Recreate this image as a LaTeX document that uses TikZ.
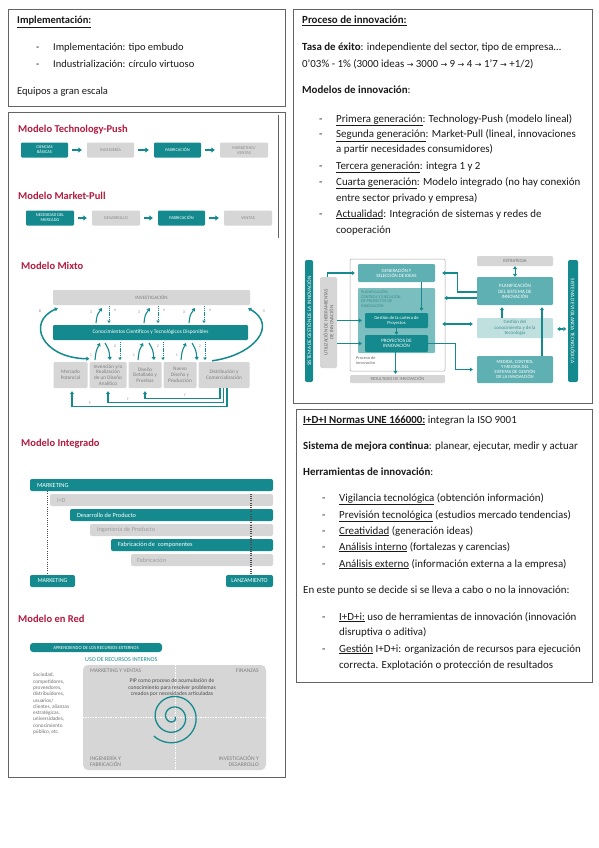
\documentclass[tikz,border=0pt]{standalone}
\usepackage{fontspec}
\setmainfont{Carlito}
\newfontfamily\djv{DejaVu Sans}
\usetikzlibrary{arrows.meta}
\definecolor{tealA}{RGB}{20,138,142}
\definecolor{tealB}{RGB}{95,176,178}
\definecolor{tealC}{RGB}{122,190,191}
\definecolor{tealD}{RGB}{192,224,224}
\definecolor{tealT}{RGB}{62,140,142}
\definecolor{grayB}{RGB}{214,214,214}
\definecolor{grayT}{RGB}{140,140,140}
\definecolor{redT}{RGB}{178,26,62}
\definecolor{frameC}{RGB}{100,100,100}
\definecolor{txtC}{RGB}{25,25,25}
\newcommand{\myarr}{{\djv\fontsize{8}{8}\selectfont →}}
\begin{document}
\begin{tikzpicture}[x=1pt,y=-1pt,
  txt/.style={anchor=base west,inner sep=0,text=txtC,font=\fontsize{10.5}{12}\selectfont},
  txr/.style={anchor=base west,inner sep=0,text=txtC,font=\fontsize{10.9}{12}\selectfont},
  ttl/.style={anchor=base west,inner sep=0,text=redT,font=\bfseries\fontsize{10.5}{12}\selectfont},
  frm/.style={draw=frameC,line width=0.8pt},
  tb/.style={fill=tealA,text=white,rounded corners=1.2pt,inner sep=0,align=center,font=\fontsize{4.4}{5}\selectfont},
  gb/.style={fill=grayB,text=grayT,rounded corners=1.2pt,inner sep=0,align=center,font=\fontsize{4.4}{5}\selectfont},
  tarr/.style={draw=tealA,line width=1.8pt,-{Triangle[width=5pt,length=3.5pt]}},
  arr/.style={draw=tealA,line width=1.3pt,-{Triangle[width=4pt,length=3pt]}},
  arrb/.style={draw=tealA,line width=1.3pt,{Triangle[width=4pt,length=3pt]}-{Triangle[width=4pt,length=3pt]}},
  darr/.style={draw=tealA,line width=0.9pt,dash pattern=on 1.2pt off 0.9pt,-{Triangle[width=3.5pt,length=2.5pt]}},
  lbl/.style={inner sep=0,text=grayT,font=\fontsize{4}{4.5}\selectfont},
  bt/.style={anchor=west,inner sep=0,text=white,font=\fontsize{6.3}{7}\selectfont},
  gt/.style={anchor=west,inner sep=0,text=grayT!85,font=\fontsize{6.3}{7}\selectfont},
  dotl/.style={draw=black!70,line width=1.1pt,dash pattern=on 1pt off 1.2pt},
  small/.style={inner sep=0,align=center,font=\fontsize{4}{4.5}\selectfont},
  qd/.style={inner sep=0,text=grayT!90!black,font=\fontsize{5.6}{6.4}\selectfont},
]
\useasboundingbox (0,0) rectangle (599,848);
\fill[white] (0,0) rectangle (599,848);

% ---------- frames ----------
\draw[frm] (8,9) rectangle (285,106);
\draw[frm] (8,112) rectangle (285,777);
\draw[frm] (293,9) rectangle (592,403);
\draw[frm] (296,409) rectangle (592,682);

% ---------- top-left text ----------
\node[txt] (h1) at (17,24) {\textbf{\underline{Implementación:}}};
\node[txt] (d1) at (36,51) {-};
\node[txt] (l1) at (53,51) {Implementación: tipo embudo};
\node[txt] (d2) at (36,68) {-};
\node[txt] (l2) at (53,68) {Industrialización: círculo virtuoso};
\node[txt] (l3) at (17,95) {Equipos a gran escala};

% ---------- top-right text ----------
\node[txr] (p1) at (302,24) {\textbf{\underline{Proceso de innovación:}}};
\node[txr] (p2) at (302,51) {\textbf{Tasa de éxito}: independiente del sector, tipo de empresa…};
\node[txr] (p3) at (302,68) {0’03\% - 1\% (3000 ideas \myarr{} 3000 \myarr{} 9 \myarr{} 4 \myarr{} 1’7 \myarr{} +1/2)};
\node[txr] (p4) at (302,94) {\textbf{Modelos de innovación}:};
\foreach \yy in {122,138,169,185,217} {\node[txr] at (319,\yy) {-};}
\node[txr] (g1) at (336,122) {\underline{Primera generación}: Technology-Push (modelo lineal)};
\node[txr] (g2) at (336,138) {\underline{Segunda generación}: Market-Pull (lineal, innovaciones};
\node[txr] (g2b) at (336,153) {a partir necesidades consumidores)};
\node[txr] (g3) at (336,169) {\underline{Tercera generación}: integra 1 y 2};
\node[txr] (g4) at (336,185) {\underline{Cuarta generación}: Modelo integrado (no hay conexión};
\node[txr] (g4b) at (336,201) {entre sector privado y empresa)};
\node[txr] (g5) at (336,217) {\underline{Actualidad}: Integración de sistemas y redes de};
\node[txr] (g5b) at (336,233) {cooperación};

% ---------- bottom-right text ----------
\node[txr] (q1) at (303,423) {\textbf{\underline{I+D+I Normas UNE 166000:}} integran la ISO 9001};
\node[txr] (q2) at (303,449) {\textbf{Sistema de mejora continua}: planear, ejecutar, medir y actuar};
\node[txr] (q3) at (303,475) {\textbf{Herramientas de innovación}:};
\foreach \yy in {501,518,534,550,567,620,652} {\node[txr] at (322,\yy) {-};}
\node[txr] (r1) at (339,501) {\underline{Vigilancia tecnológica} (obtención información)};
\node[txr] (r2) at (339,518) {\underline{Previsión tecnológica} (estudios mercado tendencias)};
\node[txr] (r3) at (339,534) {\underline{Creatividad} (generación ideas)};
\node[txr] (r4) at (339,550) {\underline{Análisis interno} (fortalezas y carencias)};
\node[txr] (r5) at (339,567) {\underline{Análisis externo} (información externa a la empresa)};
\node[txr] (q4) at (303,593) {En este punto se decide si se lleva a cabo o no la innovación:};
\node[txr] (s1) at (339,620) {\underline{I+D+i:} uso de herramientas de innovación (innovación};
\node[txr] (s1b) at (339,635) {disruptiva o aditiva)};
\node[txr] (s2) at (339,652) {\underline{Gestión} I+D+i: organización de recursos para ejecución};
\node[txr] (s2b) at (339,668) {correcta. Explotación o protección de resultados};

% ---------- Technology push ----------
\draw[frameC,line width=0.9pt] (278,115) -- (278,238);
\node[ttl] (t1) at (18,132) {Modelo Technology-Push};
\node[tb,minimum width=47,minimum height=15] (cb) at (44.5,150) {CIENCIAS\\BÁSICAS};
\node[gb,minimum width=47,minimum height=15] (ing) at (110.5,150) {INGENIERÍA};
\node[tb,minimum width=47,minimum height=15] (fab1) at (177.5,150) {FABRICACIÓN};
\node[gb,minimum width=48,minimum height=15] (mkv) at (244,150) {MARKETING/\\VENTAS};
\draw[tarr] ([xshift=4pt]cb.east) -- ([xshift=-5pt]ing.west);
\draw[tarr] ([xshift=4pt]ing.east) -- ([xshift=-5pt]fab1.west);
\draw[tarr] ([xshift=4pt]fab1.east) -- ([xshift=-5pt]mkv.west);

\node[ttl] (t2) at (18,199) {Modelo Market-Pull};
\node[tb,minimum width=48,minimum height=15] (nec) at (50,218) {NECESIDAD DEL\\MERCADO};
\node[gb,minimum width=48,minimum height=15] (des) at (116,218) {DESARROLLO};
\node[tb,minimum width=47,minimum height=15] (fab2) at (181.5,218) {FABRICACIÓN};
\node[gb,minimum width=48,minimum height=15] (ven) at (248,218) {VENTAS};
\draw[tarr] ([xshift=4pt]nec.east) -- ([xshift=-5pt]des.west);
\draw[tarr] ([xshift=4pt]des.east) -- ([xshift=-5pt]fab2.west);
\draw[tarr] ([xshift=4pt]fab2.east) -- ([xshift=-5pt]ven.west);

% ---------- Modelo mixto ----------
\node[ttl] (t3) at (21,269) {Modelo Mixto};
\node[gb,minimum width=197,minimum height=15,font=\fontsize{5}{5.5}\selectfont,text=grayT!90!black] (inv) at (151.5,297.5) {INVESTIGACIÓN};
\node[tb,minimum width=195,minimum height=15,font=\fontsize{5.4}{6}\selectfont] (con) at (150.5,332.5) {Conocimientos Científicos y Tecnológicos Disponibles};
\begin{scope}[every node/.style={gb,minimum height=26,font=\fontsize{5.2}{5.7}\selectfont,text=grayT!90!black}]
\node[minimum width=34] (b1) at (70.5,375) {Mercado\\Potencial};
\node[minimum width=37] (b2) at (108,375) {Invención y/o\\Realización\\de un Diseño\\Analítico};
\node[minimum width=33] (b3) at (145,375) {Diseño\\Detallado y\\Pruebas};
\node[minimum width=33] (b4) at (180,375) {Nuevo\\Diseño y\\Producción};
\node[minimum width=51] (b5) at (224,375) {Distribución y\\Comercialización};
\end{scope}
% knowledge <-> research arrows
\foreach \u/\d in {99/109,147/158,192/204} {
  \draw[arr,line width=1.1pt] (\u-3,323) .. controls (\u-2,315) .. (\u+3,308);
  \draw[darr] (\d,306) -- (\d,323);
  \node[lbl] at (\u-8,312) {3};
  \node[lbl] at (\d+6,310) {4};
}
% chain <-> knowledge arrows
\foreach \u/\m/\d in {97/108/120,140/152/163,183/195/205} {
  \draw[arr,line width=1.1pt] (\u-2,360) .. controls (\u-1,351) .. (\u+3,343);
  \draw[arr,line width=1.1pt] (\m-3,343) .. controls (\m+1,350) .. (\m+2,360);
  \draw[darr] (\d,342) -- (\d,360);
  \node[lbl] at (\u-6,355) {1};
  \node[lbl] at (\d-5,346) {2};
}
\draw[arrb,line width=1.5pt] ([xshift=5pt,yshift=-3pt]inv.south west) .. controls (26,322) and (42,358) .. ([yshift=3pt]b2.north west);
\draw[arr,line width=1.5pt] ([xshift=-12pt,yshift=1pt]b5.north) .. controls (255,355) and (278,325) .. ([xshift=-2pt,yshift=-3pt]inv.south east);
\node[lbl] (lD) at (40,311) {D};
\node[lbl] (lS) at (264,311) {S};
\draw[arr,line width=1.1pt] ([xshift=3pt]b5.south) -- ++(0,18) -| ([xshift=1.5pt,yshift=-3pt]b1.south);
\draw[arr,line width=1.1pt] ([xshift=-0.5pt]b5.south) -- ++(0,14) -| ([yshift=-3pt]b2.south);
\draw[arr,line width=1.1pt] ([xshift=-4pt]b5.south) -- ++(0,10) -| ([yshift=-3pt]b3.south);
\node[lbl] at (90,403.5) {F};
\node[lbl] at (128,399.5) {f};
\node[lbl] at (185,395.5) {f};

% ---------- Modelo integrado ----------
\node[ttl] (t4) at (21,446) {Modelo Integrado};
\node[tb,minimum width=243,minimum height=12,rounded corners=2pt] (m1) at (151.5,485) {};
\node[gb,minimum width=223,minimum height=12,rounded corners=2pt] (id) at (161.5,500) {};
\node[tb,minimum width=203,minimum height=12,rounded corners=2pt] (dp) at (171.5,515) {};
\node[gb,minimum width=183,minimum height=12,rounded corners=2pt] (ip) at (181.5,530) {};
\node[tb,minimum width=162,minimum height=12,rounded corners=2pt] (fc) at (192,545) {};
\node[gb,minimum width=142,minimum height=12,rounded corners=2pt] (fb) at (202,560) {};
\node[tb,minimum width=45,minimum height=12,rounded corners=2pt,font=\fontsize{6}{7}\selectfont] (m2) at (52.5,581) {MARKETING};
\node[tb,minimum width=47,minimum height=12,rounded corners=2pt,font=\fontsize{6}{7}\selectfont] (lz) at (249.5,581) {LANZAMIENTO};
\node[bt] at ([xshift=7pt]m1.west) {MARKETING};
\node[gt] at ([xshift=7pt]id.west) {I+D};
\node[bt] at ([xshift=7pt]dp.west) {Desarrollo de Producto};
\node[gt] at ([xshift=7pt]ip.west) {Ingeniería de Producto};
\node[bt] at ([xshift=7pt]fc.west) {Fabricación de\ \ componentes};
\node[gt] at ([xshift=6pt]fb.west) {Fabricación};
\draw[dotl] ([xshift=18pt]m1.south west) -- ([xshift=18pt]m2.north west);
\draw[dotl] ([xshift=1.5pt]lz.north |- id.north) -- ([xshift=1.5pt]lz.north);

% ---------- Modelo en red ----------
\node[ttl] (t5) at (18,622) {Modelo en Red};
\node[tb,minimum width=132,minimum height=9,rounded corners=3pt,font=\fontsize{4.7}{5}\selectfont] (ext) at (96,647.5) {APRENDIENDO DE LOS RECURSOS EXTERNOS};
\node[anchor=west,inner sep=0,text=tealA,font=\fontsize{6}{7}\selectfont] (uri) at (85,660) {USO DE RECURSOS INTERNOS};
\node[fill=grayB,rounded corners=5pt,minimum width=183,minimum height=105,inner sep=0] (grid) at (174.5,717.5) {};
\draw[white,line width=0.6pt,dash pattern=on 1.5pt off 1pt] ([xshift=0.5pt]grid.north) -- ([xshift=0.5pt]grid.south);
\draw[white,line width=0.6pt,dash pattern=on 1.5pt off 1pt] (grid.west) -- (grid.east);
\node[qd,anchor=west] (q1l) at (90,671) {MARKETING Y VENTAS};
\node[qd,anchor=east] (q2l) at (259,671) {FINANZAS};
\node[qd,anchor=south west,align=left] (q3l) at (90,767) {INGENIERÍA Y\\FABRICACIÓN};
\node[qd,anchor=south east,align=right] (q4l) at (259,767) {INVESTIGACIÓN Y\\DESARROLLO};
\node[small,text=black!70,font=\fontsize{5.6}{6.6}\selectfont] (pip) at (172,687.5) {PIP como proceso de acumulación de\\conocimiento para resolver problemas\\creados por necesidades articuladas};
\draw[tealA,line width=1.3pt] plot[smooth,domain=0:855,samples=160] ({173+(2+\x/855*25)*cos(\x)},{717+(2+\x/855*25)*sin(\x)});
\node[anchor=north west,inner sep=0,align=left,text=grayT!80!black,font=\fontsize{5.3}{6.3}\selectfont] (soc) at (33,673) {Sociedad,\\competidores,\\proveedores,\\distribuidores,\\usuarios/\\clientes, alianzas\\estratégicas,\\universidades,\\conocimiento\\público, etc.};

% ---------- innovation system diagram ----------
\node[tb,minimum width=8,minimum height=122,rounded corners=2pt] (sgi) at (309,321) {};
\node[rotate=90,inner sep=0,text=white,font=\fontsize{5.3}{6}\selectfont] at (sgi) {SISTEMA DE GESTIÓN DE LA INNOVACIÓN};
\node[gb,minimum width=17,minimum height=91,rounded corners=1.5pt] (uhi) at (328.5,322.5) {};
\node[rotate=90,inner sep=0,align=center,text=black!60,font=\fontsize{5}{5.7}\selectfont] at (uhi) {UTILIZACIÓN DE HERRAMIENTAS\\DE INNOVACIÓN};
\node[draw=black!35,line width=0.5pt,fill=white,minimum width=95,minimum height=112,inner sep=0,rounded corners=1pt] (pfr) at (397.5,315) {};
\node[fill=tealB,text=white,rounded corners=1.2pt,inner sep=0,align=center,font=\fontsize{4.8}{5.4}\selectfont,minimum width=77,minimum height=18] (gen) at (396.5,273) {GENERACIÓN Y\\SELECCIÓN DE IDEAS};
\node[fill=tealC,rounded corners=1.2pt,inner sep=0,minimum width=77,minimum height=65] (pce) at (396.5,320.5) {};
\node[anchor=north west,inner sep=0,align=left,text=tealT,font=\fontsize{4.2}{4.6}\selectfont] at ([xshift=3pt,yshift=-2pt]pce.north west) {PLANIFICACIÓN,\\CONTROL Y EJECUCIÓN\\DE PROYECTOS DE\\INNOVACIÓN};
\node[tb,minimum width=63,minimum height=15,font=\fontsize{4.6}{5.3}\selectfont] (gcp) at (396.5,320.5) {Gestión de la cartera de\\Proyectos};
\node[tb,minimum width=63,minimum height=17,font=\fontsize{5}{5.7}\selectfont] (pin) at (396.5,343.5) {PROYECTOS DE\\INNOVACIÓN};
\node[anchor=north west,inner sep=0,align=left,text=black!60,font=\fontsize{4.3}{5}\selectfont] (pdi) at (356,356) {Proceso de\\innovación};
\node[gb,minimum width=95,minimum height=8,font=\fontsize{4.6}{5}\selectfont,text=black!55] (res) at (397.5,379) {RESULTADO DE INNOVACIÓN};
\node[gb,minimum width=76,minimum height=10,font=\fontsize{4.8}{5}\selectfont,text=black!55] (est) at (515,261) {ESTRATEGIA};
\node[fill=tealB,text=white,rounded corners=1.2pt,inner sep=0,align=center,font=\fontsize{5}{5.7}\selectfont,minimum width=76,minimum height=28] (psi) at (515,291) {PLANIFICACIÓN\\DEL SISTEMA DE\\INNOVACIÓN};
\node[fill=tealD,text=tealT,rounded corners=1.2pt,inner sep=0,align=center,font=\fontsize{4.9}{5.5}\selectfont,minimum width=76,minimum height=20] (gct) at (515,328) {Gestión del\\conocimiento y de la\\tecnología};
\node[fill=tealB,text=white,rounded corners=1.2pt,inner sep=0,align=center,font=\fontsize{4.7}{5.3}\selectfont,minimum width=76,minimum height=27] (mcm) at (515,369.5) {MEDIDA, CONTROL\\Y MEJORA DEL\\SISTEMA DE GESTIÓN\\DE LA INNOVACIÓN};
\node[tb,minimum width=10,minimum height=122,rounded corners=2pt] (svt) at (573,321) {};
\node[rotate=-90,inner sep=0,text=white,font=\fontsize{5.3}{6}\selectfont] at (svt) {SISTEMA DE VIGILANCIA TECNOLÓGICA};
% arrows
\draw[arr,line width=1.1pt] ([xshift=-1pt]uhi.north) |- ([xshift=-3pt]gen.west);
\draw[arr,line width=1.1pt] (uhi.east |- gcp.west) -- ([xshift=-3pt]gcp.west);
\draw[arr,line width=1.1pt] (uhi.east |- pin.west) -- ([xshift=-3pt]pin.west);
\draw[arr,line width=1.1pt] ([xshift=25pt]gen.south) -- ([xshift=25pt,yshift=2pt]gen.south |- gcp.north);
\draw[arr,line width=1.1pt] (gcp.south) -- (pin.north);
\draw[arr,line width=1.1pt] ([xshift=-2pt]pfr.south |- pin.south) -- ([xshift=-2pt,yshift=1pt]pfr.south |- res.north);
\draw[arrb,line width=1pt] (est.south) -- (psi.north);
\draw[arr,line width=1.1pt] ([yshift=-1pt]psi.west) -- ++(-19,0) |- ([xshift=7pt]gen.east);
\draw[arr,line width=1.1pt] ([yshift=-7pt]psi.west) -- ([xshift=-1pt,yshift=-7pt]psi.west -| pfr.east);
\draw[arrb,line width=1.1pt] ([xshift=-3pt,yshift=4pt]pfr.east |- gct.west) -- ([xshift=-4pt,yshift=4pt]gct.west);
\draw[arr,line width=1.1pt] ([xshift=-13pt]gct.north) -- ([xshift=-13pt,yshift=-2pt]psi.south);
\draw[arr,line width=1.1pt] ([xshift=27pt]mcm.north) -- ([xshift=27pt,yshift=-2pt]psi.south);
\draw[arr,line width=1.1pt] (pin.east) -- ++(27,0) |- ([xshift=-4pt]mcm.west);
\draw[arrb,line width=1.1pt] ([xshift=4pt,yshift=-1pt]gct.east) -- ([xshift=-1.5pt,yshift=-1pt]svt.west |- gct.east);
\end{tikzpicture}
\end{document}
